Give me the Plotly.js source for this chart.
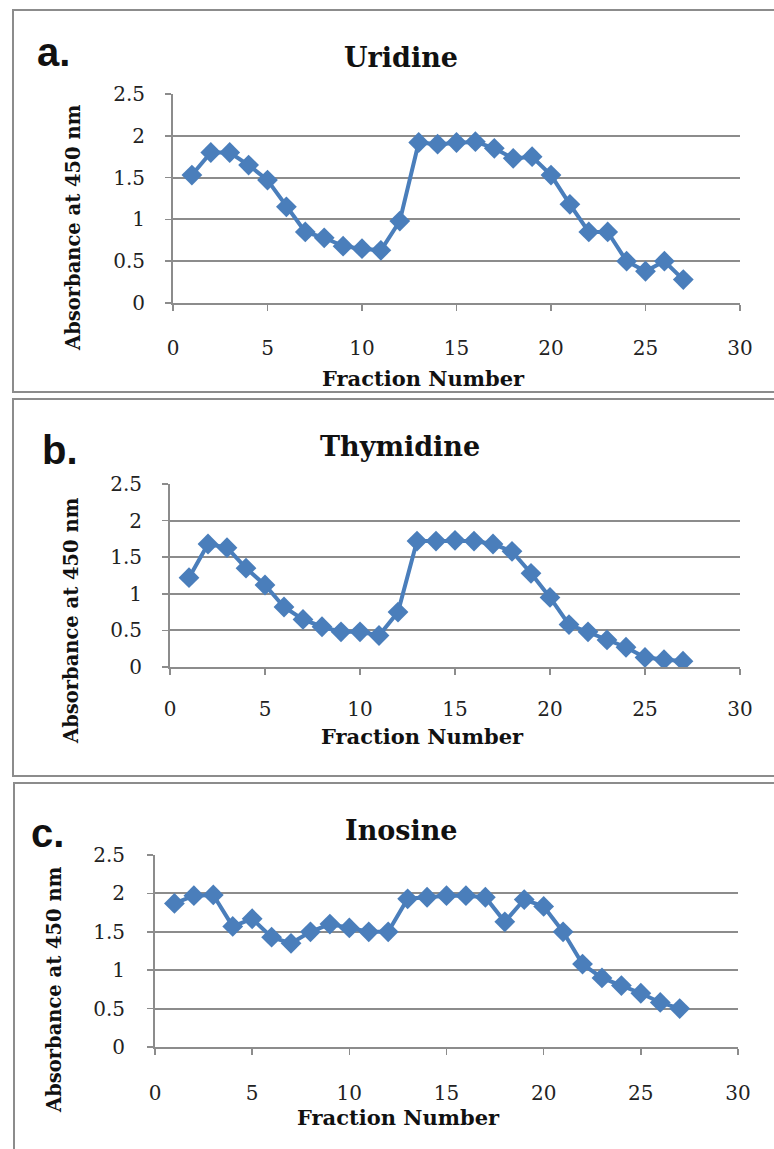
<!DOCTYPE html>
<html>
<head>
<meta charset="utf-8">
<script src="https://cdn.plot.ly/plotly-3.0.1.min.js"></script>
<style>html,body{margin:0;padding:0;background:#fff;}#chart{width:774px;height:1149px;}</style>
</head>
<body>
<div id="chart"></div>
<script>
// ---- data ----
var fractions = [1,2,3,4,5,6,7,8,9,10,11,12,13,14,15,16,17,18,19,20,21,22,23,24,25,26,27];
var uridine   = [1.53,1.80,1.80,1.65,1.47,1.15,0.85,0.78,0.68,0.65,0.63,0.98,1.92,1.90,1.92,1.93,1.85,1.73,1.75,1.53,1.18,0.85,0.85,0.50,0.38,0.50,0.28];
var thymidine = [1.22,1.68,1.63,1.35,1.12,0.82,0.65,0.55,0.48,0.48,0.43,0.75,1.72,1.72,1.73,1.72,1.68,1.58,1.28,0.95,0.58,0.48,0.37,0.27,0.13,0.10,0.08];
var inosine   = [1.87,1.97,1.98,1.57,1.67,1.43,1.35,1.50,1.60,1.55,1.50,1.50,1.93,1.95,1.97,1.97,1.95,1.63,1.92,1.83,1.50,1.08,0.90,0.80,0.70,0.58,0.50];
var panelLetters = ["a.", "b.", "c."];
var panelTitles = ["Uridine", "Thymidine", "Inosine"];
var xTitle = "Fraction Number";
var yTitle = "Absorbance at 450 nm";
var xTicks = [0,5,10,15,20,25,30];
var yTicks = [0,0.5,1,1.5,2,2.5];
var seriesList = [uridine, thymidine, inosine];

// ---- layout geometry (pixels) ----
var W = 774, H = 1149;
function px(x){ return x / W; }
function py(y){ return 1 - y / H; }
var geo = [
  {l:173, r:740, t:94,  b:303,  titleX:401, titleY:57,  letterX:53, letterY:52,  yTitleX:73, yTitleY:228, xTitleX:423, xTitleY:378,  box:[13,10,800,392],   xs:20, ys:16},
  {l:170, r:740, t:484, b:667,  titleX:400, titleY:446, letterX:60, letterY:450, yTitleX:71, yTitleY:621, xTitleX:422, xTitleY:736,  box:[13,399,800,776],  xs:17, ys:16},
  {l:155, r:738, t:855, b:1047, titleX:401, titleY:831, letterX:47, letterY:833, yTitleX:54, yTitleY:990, xTitleX:398, xTitleY:1117, box:[14,783,800,1200], xs:21, ys:18}
];

var blue = "#4a7ebb";
var grid = "#8c8c8c";
var serif = "DejaVu Serif, Liberation Serif, serif";
var traces = [], annotations = [], shapes = [];
var layout = {
  width: W, height: H,
  margin: {l:0, r:0, t:0, b:0},
  paper_bgcolor: "#fff", plot_bgcolor: "#fff",
  showlegend: false
};

for (var i = 0; i < 3; i++) {
  var g = geo[i];
  var sfx = i === 0 ? "" : String(i + 1);
  traces.push({
    x: fractions, y: seriesList[i],
    xaxis: "x" + sfx, yaxis: "y" + sfx,
    type: "scatter", mode: "lines+markers",
    line: {color: blue, width: 4},
    marker: {symbol: "diamond", size: 16, color: blue}
  });
  layout["xaxis" + sfx] = {
    domain: [px(g.l), px(g.r)], anchor: "y" + sfx,
    range: [0, 30], tickvals: xTicks, ticktext: xTicks.map(String),
    showgrid: false, zeroline: false,
    showline: true, linecolor: grid, linewidth: 2,
    ticks: "outside", ticklen: 6, tickcolor: grid, tickwidth: 1.5,
    ticklabelstandoff: g.xs,
    tickfont: {family: serif, size: 20, color: "#222"}
  };
  layout["yaxis" + sfx] = {
    domain: [py(g.b), py(g.t)], anchor: "x" + sfx,
    range: [0, 2.5], tickvals: yTicks, ticktext: yTicks.map(String),
    showgrid: true, gridcolor: grid, gridwidth: 2,
    zeroline: false,
    showline: true, linecolor: grid, linewidth: 2,
    ticks: "outside", ticklen: 6, tickcolor: grid, tickwidth: 1.5,
    ticklabelstandoff: g.ys,
    tickfont: {family: serif, size: 20, color: "#222"}
  };
  shapes.push({type: "rect", xref: "paper", yref: "paper",
    x0: px(g.box[0]), x1: px(g.box[2]), y0: py(g.box[3]), y1: py(g.box[1]),
    line: {color: "#8c8c8c", width: 2}, fillcolor: "rgba(0,0,0,0)"});
  annotations.push({xref: "paper", yref: "paper", x: px(g.titleX), y: py(g.titleY),
    text: "<b>" + panelTitles[i] + "</b>", showarrow: false, xanchor: "center", yanchor: "middle",
    font: {family: serif, size: 27, color: "#111"}});
  annotations.push({xref: "paper", yref: "paper", x: px(g.letterX), y: py(g.letterY),
    text: "<b>" + panelLetters[i] + "</b>", showarrow: false, xanchor: "center", yanchor: "middle",
    font: {family: "Liberation Sans, Arial, sans-serif", size: 40, color: "#111"}});
  annotations.push({xref: "paper", yref: "paper", x: px(g.xTitleX), y: py(g.xTitleY),
    text: "<b>" + xTitle + "</b>", showarrow: false, xanchor: "center", yanchor: "middle",
    font: {family: serif, size: 21, color: "#111"}});
  annotations.push({xref: "paper", yref: "paper", x: px(g.yTitleX), y: py(g.yTitleY),
    text: "<b>" + yTitle + "</b>", showarrow: false, textangle: -90, xanchor: "center", yanchor: "middle",
    font: {family: serif, size: 19.5, color: "#111"}});
}
layout.annotations = annotations;
layout.shapes = shapes;

Plotly.newPlot("chart", traces, layout, {staticPlot: true, displayModeBar: false});
</script>
</body>
</html>
